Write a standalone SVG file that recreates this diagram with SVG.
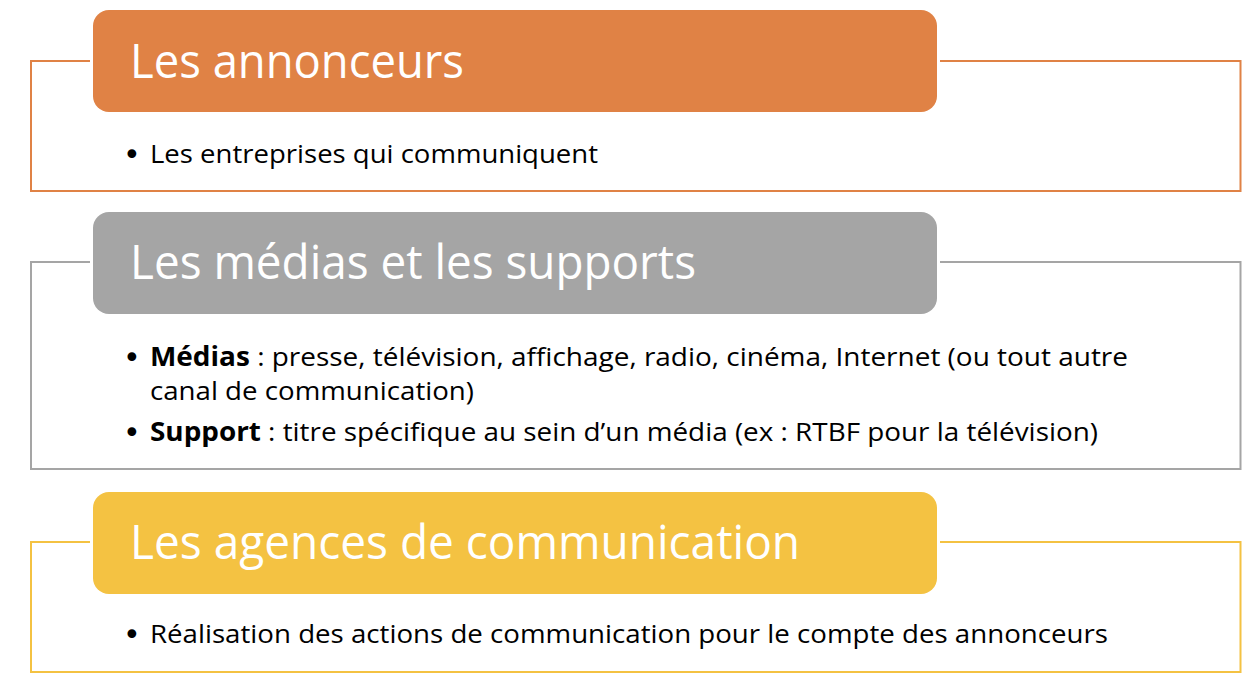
<svg xmlns="http://www.w3.org/2000/svg" width="1260" height="674" viewBox="0 0 1260 674">
<style>
.frame{fill:none;stroke-width:2}
.title{font-family:"Open Sans","Noto Sans","Liberation Sans",sans-serif;font-size:48px;fill:#ffffff}
.body{font-family:"Open Sans","Noto Sans","Liberation Sans",sans-serif;font-size:26px;fill:#000000}
.bullet{font-family:"DejaVu Sans","Liberation Sans",sans-serif;font-size:30px;fill:#000000}
.b{font-weight:bold}
</style>
<rect width="1260" height="674" fill="#ffffff"/>
<g id="connectors">
<path class="frame" stroke="#E08245" d="M90,61 H31 V191 H1240.5 V61 H940"/>
<path class="frame" stroke="#A5A5A5" d="M90,262 H31 V469 H1240.5 V262 H940"/>
<path class="frame" stroke="#F4C242" d="M90,542 H31 V672 H1240.5 V542 H940"/>
</g>
<g id="node-annonceurs">
<rect x="93" y="10" width="844" height="102" rx="16" fill="#E08245"/>
<text class="title" x="130" y="78" textLength="334" lengthAdjust="spacingAndGlyphs">Les annonceurs</text>
<text class="bullet" x="123" y="165">•</text>
<text class="body" x="150" y="163" textLength="448" lengthAdjust="spacingAndGlyphs">Les entreprises qui communiquent</text>
</g>
<g id="node-medias">
<rect x="93" y="212" width="844" height="102" rx="16" fill="#A5A5A5"/>
<text class="title" x="130" y="279" textLength="566" lengthAdjust="spacingAndGlyphs">Les médias et les supports</text>
<text class="bullet" x="123" y="368">•</text>
<text class="body" x="150" y="366" textLength="978" lengthAdjust="spacingAndGlyphs"><tspan class="b">Médias</tspan> : presse, télévision, affichage, radio, cinéma, Internet (ou tout autre</text>
<text class="body" x="150" y="400" textLength="324" lengthAdjust="spacingAndGlyphs">canal de communication)</text>
<text class="bullet" x="123" y="443">•</text>
<text class="body" x="150" y="441" textLength="948" lengthAdjust="spacingAndGlyphs"><tspan class="b">Support</tspan> : titre spécifique au sein d’un média (ex : RTBF pour la télévision)</text>
</g>
<g id="node-agences">
<rect x="93" y="492" width="844" height="102" rx="16" fill="#F4C242"/>
<text class="title" x="130" y="559" textLength="670" lengthAdjust="spacingAndGlyphs">Les agences de communication</text>
<text class="bullet" x="123" y="645">•</text>
<text class="body" x="150" y="643" textLength="958" lengthAdjust="spacingAndGlyphs">Réalisation des actions de communication pour le compte des annonceurs</text>
</g>
</svg>
